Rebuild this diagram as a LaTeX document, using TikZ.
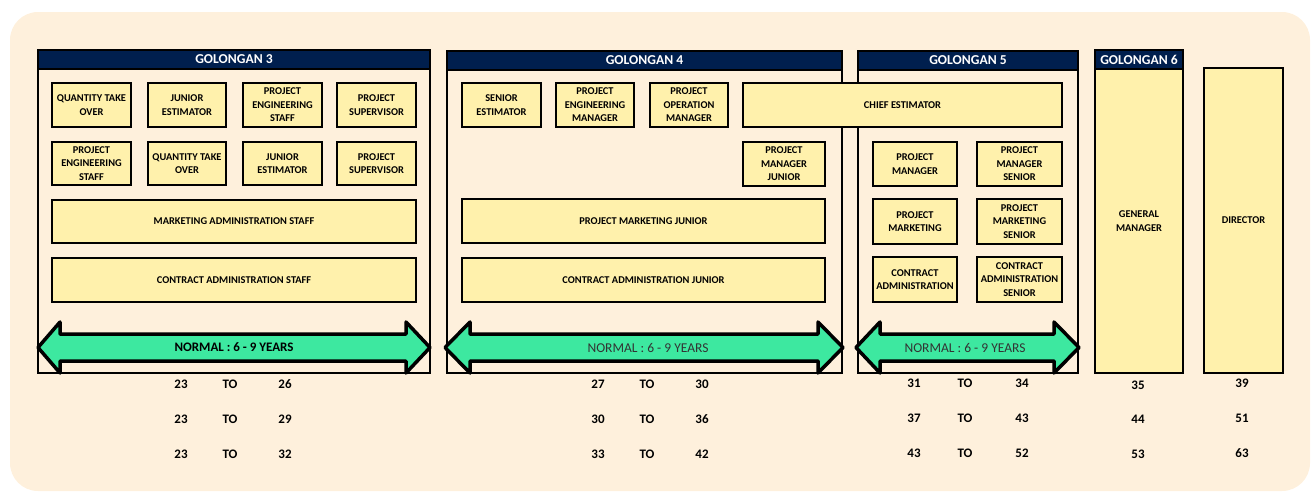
\documentclass[tikz,border=0pt]{standalone}
\usepackage{fontspec}
\setmainfont{Carlito}
\definecolor{bgpeach}{HTML}{FEF0DC}
\definecolor{boxyel}{HTML}{FFF1AC}
\definecolor{navy}{HTML}{001F4E}
\definecolor{arrgreen}{HTML}{3DE8A0}
\tikzset{
  bx/.style={draw=black, line width=1.2pt, fill=boxyel, align=center, inner sep=0pt,
    font=\bfseries\fontsize{10.4}{13.6}\selectfont},
  golbox/.style={draw=black, line width=1.1pt},
  hdr/.style={fill=navy, draw=black, line width=1.1pt},
  hdrtxt/.style={text=white, font=\bfseries\fontsize{13.6}{15}\selectfont},
  arrowshape/.style={fill=arrgreen, draw=black, line width=3.5pt, line join=round},
  num/.style={font=\bfseries\fontsize{13}{15}\selectfont, inner sep=0pt},
  normtxt/.style={font=\fontsize{13.5}{15}\selectfont, text=black!80, inner sep=0pt}
}
\newcommand\rbox[6]{\node[bx, minimum width={#4-#2}, minimum height={#5-#3}] (#1) at ({(#2+#4)/2},{(#3+#5)/2}) {#6};}
\newcommand\dblarrow[5]{%
  \draw[arrowshape] (#1,347.5) -- (#2,322) -- (#2,334) -- (#3,334) -- (#3,322) -- (#4,347.5)
    -- (#3,373) -- (#3,361) -- (#2,361) -- (#2,373) -- cycle;
  \coordinate (#5) at ({(#1+#4)/2},347.5);}
\begin{document}
\begin{tikzpicture}[x=1pt,y=-1pt]
\useasboundingbox (0,0) rectangle (1312,491);
\fill[bgpeach, rounded corners=28pt] (10,12) rectangle (1310,491);

% Golongan frames
\draw[golbox] (38,50) rectangle (430,373);
\draw[hdr] (38,50) rectangle (430,69);
\node[hdrtxt] (h3) at (234,59.5) {GOLONGAN 3};
\draw[golbox] (447,51) rectangle (842,373);
\draw[hdr] (447,51) rectangle (842,70);
\node[hdrtxt] (h4) at (644.5,60.5) {GOLONGAN 4};
\draw[golbox] (858,51) rectangle (1078,373);
\draw[hdr] (858,51) rectangle (1078,70);
\node[hdrtxt] (h5) at (968,60.5) {GOLONGAN 5};
\draw[hdr] (1095,50) rectangle (1183,69);
\node[hdrtxt] (h6) at (1139,59.5) {GOLONGAN 6};

% Golongan 3 boxes
\rbox{a1}{52}{83}{131}{127}{QUANTITY TAKE\\OVER}
\rbox{a2}{148}{83}{226}{127}{JUNIOR\\ESTIMATOR}
\rbox{a3}{243}{83}{322}{127}{PROJECT\\ENGINEERING\\STAFF}
\rbox{a4}{337}{83}{416}{127}{PROJECT\\SUPERVISOR}
\rbox{b1}{52}{142}{131}{185}{PROJECT\\ENGINEERING\\STAFF}
\rbox{b2}{148}{142}{226}{185}{QUANTITY TAKE\\OVER}
\rbox{b3}{243}{142}{322}{185}{JUNIOR\\ESTIMATOR}
\rbox{b4}{337}{142}{416}{185}{PROJECT\\SUPERVISOR}
\rbox{c1}{52}{200}{416}{243}{MARKETING ADMINISTRATION STAFF}
\rbox{d1}{52}{258}{416}{302}{CONTRACT ADMINISTRATION STAFF}

% Golongan 4 boxes
\rbox{e1}{462}{83}{541}{127}{SENIOR\\ESTIMATOR}
\rbox{e2}{556}{83}{634}{127}{PROJECT\\ENGINEERING\\MANAGER}
\rbox{e3}{650}{83}{728}{127}{PROJECT\\OPERATION\\MANAGER}
\rbox{e4}{743}{83}{1062}{127}{CHIEF ESTIMATOR}
\rbox{f1}{743}{142}{825}{186}{PROJECT\\MANAGER\\JUNIOR}
\rbox{g1}{462}{199}{825}{243}{PROJECT MARKETING JUNIOR}
\rbox{h1}{462}{258}{825}{302}{CONTRACT ADMINISTRATION JUNIOR}

% Golongan 5 boxes
\rbox{i1}{873}{142}{957}{186}{PROJECT\\MANAGER}
\rbox{i2}{977}{142}{1062}{186}{PROJECT\\MANAGER\\SENIOR}
\rbox{j1}{873}{199}{957}{244}{PROJECT\\MARKETING}
\rbox{j2}{977}{199}{1062}{244}{PROJECT\\MARKETING\\SENIOR}
\rbox{k1}{873}{257}{957}{302}{CONTRACT\\ADMINISTRATION}
\rbox{k2}{977}{257}{1062}{302}{CONTRACT\\ADMINISTRATION\\SENIOR}

% Golongan 6 and director
\rbox{gm}{1095}{69}{1183}{373}{GENERAL\\MANAGER}
\rbox{dir}{1204}{68}{1283}{373}{DIRECTOR}

% Arrows
\dblarrow{38}{60}{406}{430}{ar3}
\node[normtxt, font=\bfseries\fontsize{13}{15}\selectfont, text=black] (t3) at (ar3) {NORMAL : 6 - 9 YEARS};
\dblarrow{445}{470}{818}{843}{ar4}
\node[normtxt] (t4) at (648,347.5) {NORMAL : 6 - 9 YEARS};
\dblarrow{856}{880}{1054}{1079}{ar5}
\node[normtxt] (t5) at (965,347.5) {NORMAL : 6 - 9 YEARS};

% Numbers
\foreach \r/\y/\a/\b in {1/384/23/26, 2/419/23/29, 3/454/23/32}{
  \node[num] (n3a\r) at (181,\y) {\a};
  \node[num] (n3t\r) at (230,\y) {TO};
  \node[num] (n3b\r) at (285,\y) {\b};
}
\foreach \r/\y/\a/\b in {1/384/27/30, 2/419/30/36, 3/454/33/42}{
  \node[num] (n4a\r) at (598,\y) {\a};
  \node[num] (n4t\r) at (647,\y) {TO};
  \node[num] (n4b\r) at (702,\y) {\b};
}
\foreach \r/\y/\a/\b in {1/383/31/34, 2/418/37/43, 3/453/43/52}{
  \node[num] (n5a\r) at (914,\y) {\a};
  \node[num] (n5t\r) at (965,\y) {TO};
  \node[num] (n5b\r) at (1022,\y) {\b};
}
\foreach \r/\y/\a in {1/385/35, 2/419/44, 3/454/53}{
  \node[num] (n6\r) at (1138,\y) {\a};
}
\foreach \r/\y/\a in {1/383/39, 2/418/51, 3/453/63}{
  \node[num] (n7\r) at (1242,\y) {\a};
}
\end{tikzpicture}
\end{document}
